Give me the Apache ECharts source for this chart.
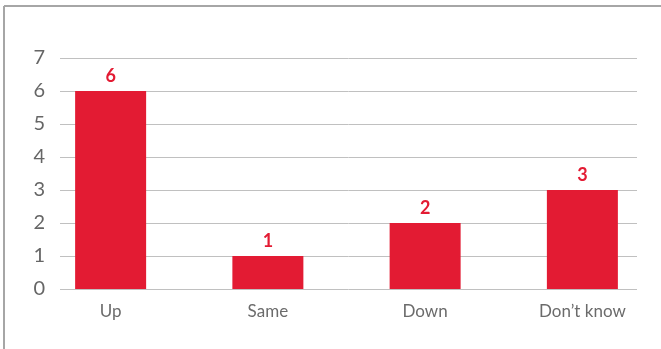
<!DOCTYPE html>
<html><head><meta charset="utf-8">
<script src="https://cdn.jsdelivr.net/npm/echarts@6/dist/echarts.min.js"></script>
<style>html,body{margin:0;padding:0;background:#fff}#c{width:661px;height:349px}</style>
</head><body><div id="c"></div>
<script>
const categories = ["Up", "Same", "Down", "Don\u2019t know"];
const values = [6, 1, 2, 3];
const yTicks = [0, 1, 2, 3, 4, 5, 6, 7];

const RED = '#E31B33';
const chart = echarts.init(document.getElementById('c'), null, {renderer: 'canvas'});
chart.setOption({
  animation: false,
  backgroundColor: '#fff',
  graphic: [
    {type: 'line', shape: {x1: 4, y1: 6, x2: 661, y2: 6}, style: {stroke: '#a6a6a6', lineWidth: 2}},
    {type: 'line', shape: {x1: 4, y1: 6, x2: 4, y2: 349}, style: {stroke: '#a6a6a6', lineWidth: 2}}
  ],
  grid: [
    {left: 60, right: 24, top: 58, bottom: 60},
    {left: 32, width: 631, top: 58, bottom: 60}
  ],
  xAxis: [
    {gridIndex: 0, type: 'category', data: categories, show: false},
    {gridIndex: 1, type: 'category', data: categories,
     axisLine: {show: false}, axisTick: {show: false},
     axisLabel: {color: '#6b6b6b', fontSize: 17, fontFamily: 'Lato', margin: 14}}
  ],
  yAxis: [
    {gridIndex: 0, type: 'value', min: yTicks[0], max: yTicks[yTicks.length - 1], interval: 1,
     axisLine: {show: false}, axisTick: {show: false},
     splitLine: {lineStyle: {color: '#c0c0c0', width: 1}},
     axisLabel: {color: '#666', fontSize: 20, fontFamily: 'Lato', margin: 15}},
    {gridIndex: 1, type: 'value', min: yTicks[0], max: yTicks[yTicks.length - 1], interval: 1, show: false}
  ],
  series: [{
    type: 'bar', xAxisIndex: 1, yAxisIndex: 1, data: values, barWidth: 71,
    itemStyle: {color: RED},
    label: {show: true, position: 'top', distance: 6, color: RED, fontSize: 18,
            fontWeight: 'bold', fontFamily: 'Lato'}
  }]
});
</script></body></html>
